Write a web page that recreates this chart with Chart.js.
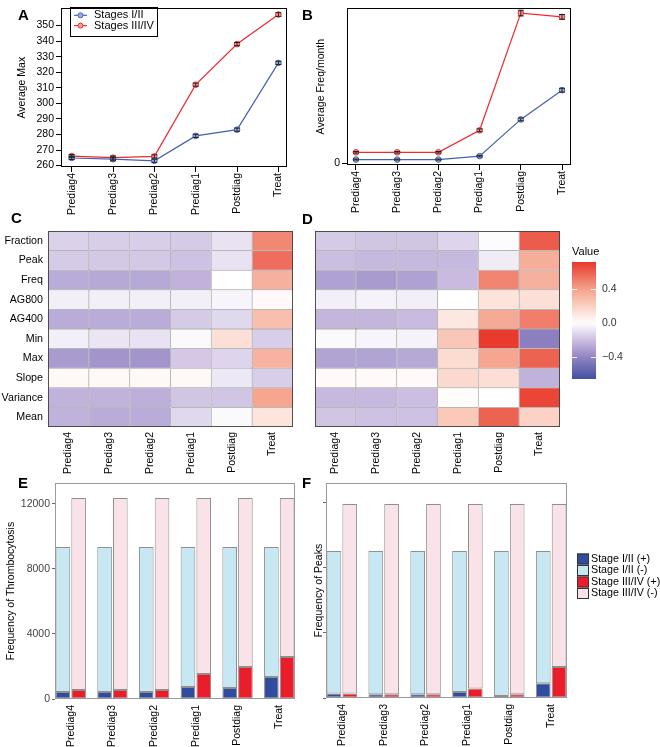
<!DOCTYPE html>
<html><head><meta charset="utf-8">
<script src="https://cdn.jsdelivr.net/npm/chart.js@4.4.1/dist/chart.umd.min.js"></script>
<style>
html,body{margin:0;padding:0;background:#fff;}
body{width:660px;height:747px;position:relative;overflow:hidden;font-family:"Liberation Sans",Arial,sans-serif;}
canvas{position:absolute;}
.lbl{position:absolute;font-weight:bold;font-size:15px;line-height:15px;color:#000;}
.val{position:absolute;font-size:11px;line-height:13px;color:#000;}
</style></head><body>
<canvas id="cA" width="300" height="220" style="left:0;top:0"></canvas>
<canvas id="cB" width="300" height="220" style="left:300px;top:0"></canvas>
<canvas id="cC" width="300" height="275" style="left:0;top:205px"></canvas>
<canvas id="cD" width="265" height="275" style="left:300px;top:205px"></canvas>
<canvas id="cBar" width="100" height="160" style="left:560px;top:240px"></canvas>
<canvas id="cE" width="300" height="277" style="left:0;top:470px"></canvas>
<canvas id="cF" width="360" height="277" style="left:300px;top:470px"></canvas>
<div class="lbl" style="left:18px;top:7px">A</div>
<div class="lbl" style="left:302px;top:7px">B</div>
<div class="lbl" style="left:11px;top:210px">C</div>
<div class="lbl" style="left:302px;top:211px">D</div>
<div class="lbl" style="left:18px;top:475px">E</div>
<div class="lbl" style="left:302px;top:475px">F</div>
<div class="val" style="left:572px;top:245px">Value</div>
<script>
// ---------------- DATA ----------------
const stages = ["Prediag4","Prediag3","Prediag2","Prediag1","Postdiag","Treat"];

const maxStageI      = [264.9, 264.1, 263.1, 279.1, 283.1, 326.0];
const maxStageIErr   = [1.0, 1.0, 1.0, 1.0, 1.0, 1.0];
const maxStageIII    = [266.1, 265.1, 265.9, 312.0, 338.1, 357.1];
const maxStageIIIErr = [1.0, 1.0, 1.0, 1.0, 1.0, 1.2];
const maxTicks       = [260, 270, 280, 290, 300, 310, 320, 330, 340, 350];

const freqStageI      = [0.40, 0.40, 0.40, 0.76, 4.60, 7.66];
const freqStageIErr   = [0.05, 0.05, 0.05, 0.08, 0.15, 0.20];
const freqStageIII    = [1.16, 1.16, 1.16, 3.46, 15.73, 15.33];
const freqStageIIIErr = [0.08, 0.08, 0.08, 0.15, 0.30, 0.25];
const freqTicksB      = [0];

const features = ["Fraction","Peak","Freq","AG800","AG400","Min","Max","Slope","Variance","Mean"];
const heatC = [
  [-0.14,-0.15,-0.15,-0.16,-0.09, 0.47],
  [-0.16,-0.17,-0.17,-0.19,-0.09, 0.55],
  [-0.26,-0.27,-0.27,-0.24, 0.00, 0.33],
  [-0.05,-0.05,-0.05,-0.05,-0.03, 0.02],
  [-0.26,-0.26,-0.26,-0.16,-0.12, 0.27],
  [-0.05,-0.08,-0.09,-0.02, 0.13,-0.15],
  [-0.32,-0.34,-0.34,-0.17,-0.13, 0.32],
  [ 0.03, 0.03, 0.03, 0.03,-0.07,-0.15],
  [-0.24,-0.24,-0.25,-0.18,-0.18, 0.38],
  [-0.24,-0.26,-0.26,-0.12,-0.02, 0.11]
];
const heatD = [
  [-0.16,-0.18,-0.18,-0.13,-0.01, 0.60],
  [-0.20,-0.22,-0.22,-0.22,-0.06, 0.34],
  [-0.30,-0.32,-0.30,-0.21, 0.48, 0.33],
  [-0.05,-0.04,-0.05, 0.00, 0.12, 0.13],
  [-0.23,-0.23,-0.21, 0.10, 0.36, 0.50],
  [-0.02,-0.03,-0.04, 0.24, 0.70,-0.42],
  [-0.29,-0.29,-0.27, 0.15, 0.38, 0.58],
  [ 0.02, 0.02, 0.02, 0.16, 0.14,-0.24],
  [-0.22,-0.22,-0.20, 0.01, 0.00, 0.67],
  [-0.18,-0.19,-0.19, 0.23, 0.58, 0.19]
];
const colorbarRange = [-0.65, 0.71];
const colorbarTicks = [-0.4, 0.0, 0.4];

const thrombIPos   = [430, 430, 430, 740, 680, 1350];
const thrombINeg   = [8920, 8920, 8920, 8610, 8670, 8000];
const thrombIIIPos = [550, 550, 550, 1540, 1970, 2580];
const thrombIIINeg = [11820, 11820, 11820, 10830, 10400, 9790];

const peaksIPos    = [270, 230, 230, 370, 120, 900];
const peaksINeg    = [8780, 8820, 8820, 8680, 8930, 8150];
const peaksIIIPos  = [270, 230, 230, 580, 230, 1900];
const peaksIIINeg  = [11670, 11710, 11710, 11360, 11710, 10040];
const freqTicks    = [0, 4000, 8000, 12000];

// ---------------- STYLE / HELPERS ----------------
const FONT = '"Liberation Sans", Arial, sans-serif';
Chart.defaults.font.family = FONT;
Chart.defaults.font.size = 10.5;
Chart.defaults.color = '#000';
Chart.defaults.animation = false;
Chart.defaults.responsive = false;
Chart.defaults.plugins.legend.display = false;
Chart.defaults.plugins.tooltip.enabled = false;

const boxPlugin = {id:'box', afterDatasetsDraw(chart, args, o){
  if(!o || !o.color) return;
  const {ctx, chartArea:a} = chart;
  ctx.save(); ctx.strokeStyle = o.color; ctx.lineWidth = 1;
  ctx.strokeRect(Math.round(a.left)+0.5, Math.round(a.top)+0.5, Math.round(a.right-a.left)-1, Math.round(a.bottom-a.top)-1);
  ctx.restore();
}};
Chart.register(boxPlugin);

const errPlugin = {id:'errbars', afterDatasetsDraw(chart){
  const ctx = chart.ctx, ys = chart.scales.y;
  chart.data.datasets.forEach((ds, di) => {
    if(!ds.errors) return;
    const meta = chart.getDatasetMeta(di);
    ctx.save(); ctx.strokeStyle = '#222'; ctx.lineWidth = 1;
    meta.data.forEach((pt, i) => {
      const v = ds.data[i].y, e = ds.errors[i], x = pt.x;
      const y1 = ys.getPixelForValue(v - e), y2 = ys.getPixelForValue(v + e);
      ctx.beginPath();
      ctx.moveTo(x, y1); ctx.lineTo(x, y2);
      ctx.moveTo(x-3, y1); ctx.lineTo(x+3, y1);
      ctx.moveTo(x-3, y2); ctx.lineTo(x+3, y2);
      ctx.stroke();
    });
    ctx.restore();
  });
}};

const innerLegend = {id:'innerLegend', afterDraw(chart, args, o){
  if(!o || o.x === undefined) return;
  const ctx = chart.ctx; ctx.save();
  if(o.frame){ ctx.strokeStyle = '#000'; ctx.lineWidth = 1; ctx.strokeRect(o.x+0.5, o.y+0.5, o.w, o.h); }
  ctx.font = o.fontSize + 'px ' + FONT; ctx.textBaseline = 'middle';
  chart.data.datasets.forEach((ds, i) => {
    const cy = o.y + o.first + i*o.rowH;
    if(o.kind === 'line'){
      ctx.strokeStyle = ds.borderColor; ctx.lineWidth = 1.2;
      ctx.beginPath(); ctx.moveTo(o.x+4, cy); ctx.lineTo(o.x+17, cy); ctx.stroke();
      ctx.beginPath(); ctx.arc(o.x+10.5, cy, 2.5, 0, Math.PI*2);
      ctx.fillStyle = ds.pointBackgroundColor; ctx.fill(); ctx.lineWidth = 1; ctx.stroke();
    } else {
      ctx.fillStyle = ds.backgroundColor; ctx.fillRect(o.x, cy-5.5, 12, 11);
      ctx.strokeStyle = '#333'; ctx.lineWidth = 1; ctx.strokeRect(o.x+0.5, cy-5, 11, 10);
    }
    ctx.fillStyle = '#000'; ctx.fillText(ds.label, o.x + o.textX, cy);
  });
  ctx.restore();
}};

const barTicks = {id:'barTicks', afterDatasetsDraw(chart){
  const {ctx, chartArea:a} = chart, ys = chart.scales.y;
  ctx.save(); ctx.strokeStyle = 'rgba(255,255,255,0.9)'; ctx.lineWidth = 1;
  ys.ticks.forEach(t => {
    const y = Math.round(ys.getPixelForValue(t.value)) + 0.5;
    ctx.beginPath(); ctx.moveTo(a.left, y); ctx.lineTo(a.left+5, y);
    ctx.moveTo(a.right-5, y); ctx.lineTo(a.right, y); ctx.stroke();
  });
  ctx.restore();
}};

const stops = [[-0.65,[67,81,161]],[-0.4,[145,131,194]],[-0.2,[204,190,225]],[0,[255,255,255]],[0.2,[251,208,194]],[0.4,[244,160,138]],[0.71,[232,55,42]]];
function heatColor(v){
  if(v <= stops[0][0]) return 'rgb('+stops[0][1].join(',')+')';
  for(let k=1;k<stops.length;k++){
    if(v <= stops[k][0]){
      const [a0,c0] = stops[k-1], [a1,c1] = stops[k];
      const t = (v-a0)/(a1-a0);
      return 'rgb(' + c0.map((c,j)=>Math.round(c + (c1[j]-c)*t)).join(',') + ')';
    }
  }
  return 'rgb('+stops[stops.length-1][1].join(',')+')';
}

function lineChart(id, sI, eI, sIII, eIII, opt){
  return new Chart(document.getElementById(id), {
    type:'line',
    data:{datasets:[
      {label:'Stages I/II', data:sI.map((v,i)=>({x:i,y:v})), errors:eI,
       borderColor:'#4562b0', backgroundColor:'#9fb0de', pointBackgroundColor:'#9fb0de', pointBorderColor:'#4562b0',
       pointRadius:2.8, pointBorderWidth:1, borderWidth:1.2},
      {label:'Stages III/IV', data:sIII.map((v,i)=>({x:i,y:v})), errors:eIII,
       borderColor:'#ee2a2f', backgroundColor:'#f59a9c', pointBackgroundColor:'#f59a9c', pointBorderColor:'#ee2a2f',
       pointRadius:2.8, pointBorderWidth:1, borderWidth:1.2}
    ]},
    options:{
      layout:{padding:opt.pad},
      scales:{
        x:{type:'linear', min:opt.xmin, max:opt.xmax, offset:false,
           afterBuildTicks:s=>{ s.ticks = stages.map((_,i)=>({value:i})); },
           afterFit:s=>{ s.height = opt.xh; },
           ticks:{autoSkip:false, minRotation:90, maxRotation:90, padding:1, callback:v=>stages[v]},
           grid:{drawOnChartArea:false, tickLength:5, color:'#000'}, border:{display:false}},
        y:{min:opt.ymin, max:opt.ymax,
           afterBuildTicks:s=>{ s.ticks = opt.ticks.map(v=>({value:v})); },
           afterFit:s=>{ s.width = opt.yw; },
           title:{display:true, text:opt.title, padding:{top:opt.tpad, bottom:0}},
           ticks:{padding:2, callback:v=>String(v)},
           grid:{drawOnChartArea:false, tickLength:5, color:'#000'}, border:{display:false}}
      },
      plugins:{box:{color:'#000'}, innerLegend:opt.legend || {}}
    },
    plugins:[errPlugin, innerLegend]
  });
}

function heatChart(id, values, opt){
  const order = features.map((f,r)=>r).reverse();
  return new Chart(document.getElementById(id), {
    type:'bar',
    data:{labels:stages, datasets:order.map(r=>({label:features[r], data:stages.map(()=>1), backgroundColor:values[r].map(heatColor)}))},
    options:{
      datasets:{bar:{barPercentage:1, categoryPercentage:1, borderColor:'rgba(50,50,50,0.75)', borderWidth:0.5, borderSkipped:false, inflateAmount:0}},
      layout:{padding:opt.pad},
      scales:{
        x:{stacked:true, grid:{display:false, drawTicks:false}, border:{display:false},
           ticks:{autoSkip:false, minRotation:90, maxRotation:90, padding:5},
           afterFit:s=>{ s.height = opt.xh; }},
        y:{stacked:true, min:0, max:features.length, display:opt.showRows,
           afterBuildTicks:s=>{ s.ticks = features.map((f,i)=>({value:i+0.5})); },
           ticks:{callback:v=>features[features.length-1-Math.floor(v)], padding:5, font:{size:10.7}},
           grid:{display:false, drawTicks:false}, border:{display:false},
           afterFit:s=>{ s.width = opt.yw; }}
      },
      plugins:{box:{color:'rgba(50,50,50,0.8)'}}
    }
  });
}

function freqChart(id, iPos, iNeg, iiiPos, iiiNeg, opt){
  const mk = arr => arr.map((v,i)=>({x:i,y:v}));
  return new Chart(document.getElementById(id), {
    type:'bar',
    data:{datasets:[
      {label:'Stage I/II (+)', data:mk(iPos), backgroundColor:'#2f4c9e', stack:'I'},
      {label:'Stage I/II (-)', data:mk(iNeg), backgroundColor:'#c7e8f2', stack:'I'},
      {label:'Stage III/IV (+)', data:mk(iiiPos), backgroundColor:'#ea1d2a', stack:'III'},
      {label:'Stage III/IV (-)', data:mk(iiiNeg), backgroundColor:'#f9e3e8', stack:'III'}
    ]},
    options:{
      datasets:{bar:{borderColor:'#8f8f8f', borderWidth:1, borderSkipped:false, categoryPercentage:0.755, barPercentage:0.93}},
      layout:{padding:opt.pad},
      scales:{
        x:{type:'linear', stacked:true, offset:false, min:-0.378, max:5.378,
           afterBuildTicks:s=>{ s.ticks = stages.map((_,i)=>({value:i})); },
           afterFit:s=>{ s.height = opt.xh; },
           ticks:{autoSkip:false, minRotation:90, maxRotation:90, padding:6, callback:v=>stages[v]},
           grid:{display:false, drawTicks:false}, border:{display:false}},
        y:{stacked:true, min:0, max:opt.ymax,
           afterBuildTicks:s=>{ s.ticks = freqTicks.map(v=>({value:v})); },
           afterFit:s=>{ s.width = opt.yw; },
           title:{display:true, text:opt.title, padding:{top:opt.tpad, bottom:0}},
           ticks:{display:opt.tickLabels, padding:2, color:'#444', callback:v=>String(v)},
           grid:{drawOnChartArea:false, tickLength:3, color:'#666'}, border:{display:false}}
      },
      plugins:{box:{color:'#9a9a9a'}, innerLegend:opt.legend || {}}
    },
    plugins:[innerLegend]
  });
}

// ---------------- CHARTS ----------------
lineChart('cA', maxStageI, maxStageIErr, maxStageIII, maxStageIIIErr, {
  pad:{left:0, top:1, right:13, bottom:0}, xh:53, yw:61, tpad:16,
  xmin:-0.258, xmax:5.208, ymin:259.1, ymax:361.1, ticks:maxTicks, title:'Average Max',
  legend:{x:70, y:7, w:87, h:29, first:8.3, rowH:10.3, textX:24, kind:'line', frame:true, fontSize:11}
});
lineChart('cB', freqStageI, freqStageIErr, freqStageIII, freqStageIIIErr, {
  pad:{left:0, top:1, right:29, bottom:0}, xh:55, yw:47, tpad:15,
  xmin:-0.218, xmax:5.218, ymin:-0.17, ymax:16.23, ticks:freqTicksB, title:'Average Freq/month'
});
heatChart('cC', heatC, {pad:{left:0, top:26, right:7, bottom:0}, xh:53, yw:48, showRows:true});
heatChart('cD', heatD, {pad:{left:15, top:26, right:5, bottom:0}, xh:53, yw:0, showRows:false});

new Chart(document.getElementById('cBar'), {
  type:'bar',
  data:{labels:['Value'], datasets:[{data:[colorbarRange], borderWidth:0, barPercentage:1, categoryPercentage:1,
    backgroundColor:c=>{
      const a = c.chart.chartArea; if(!a) return '#fff';
      const g = c.chart.ctx.createLinearGradient(0, a.bottom, 0, a.top);
      for(let k=0;k<=28;k++){ const v = colorbarRange[0] + (colorbarRange[1]-colorbarRange[0])*k/28; g.addColorStop(k/28, heatColor(v)); }
      return g;
    }}]},
  options:{
    layout:{padding:{left:12, top:22, bottom:21, right:0}},
    scales:{
      x:{display:false},
      y:{position:'right', min:colorbarRange[0], max:colorbarRange[1],
         afterBuildTicks:s=>{ s.ticks = colorbarTicks.map(v=>({value:v})); },
         ticks:{padding:6, color:'#333', callback:v=> v<0 ? '\u2212'+Math.abs(v).toFixed(1) : v.toFixed(1)},
         grid:{display:false, drawTicks:false}, border:{display:false},
         afterFit:s=>{ s.width = 64; }}
    }
  },
  plugins:[barTicks]
});

freqChart('cE', thrombIPos, thrombINeg, thrombIIIPos, thrombIIINeg, {
  pad:{left:0, top:13, right:5, bottom:0}, xh:48, yw:55, tpad:5, ymax:13290,
  title:'Frequency of Thrombocytosis', tickLabels:true
});
freqChart('cF', peaksIPos, peaksINeg, peaksIIIPos, peaksIIINeg, {
  pad:{left:0, top:13, right:93, bottom:0}, xh:49, yw:26, tpad:13, ymax:13230,
  title:'Frequency of Peaks', tickLabels:false,
  legend:{x:277, y:83.5, first:5.5, rowH:11.5, textX:14, kind:'box', frame:false, fontSize:10.7}
});
</script>
</body></html>
